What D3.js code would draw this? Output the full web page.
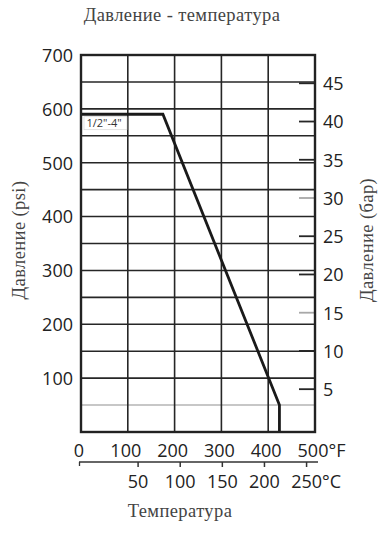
<!DOCTYPE html>
<html>
<head>
<meta charset="utf-8">
<script src="https://cdnjs.cloudflare.com/ajax/libs/d3/7.8.5/d3.min.js"></script>
<style>
  body { margin: 0; background: #fff; }
  .tick-label { font-family: "Open Sans", sans-serif; font-size: 18px; fill: #222; }
  .title { font-family: "Liberation Serif", serif; font-size: 18.5px; letter-spacing: 0.4px; fill: #444; }
</style>
</head>
<body>
<div id="chart"></div>
<script>
// pressure-temperature rating
const tempF = [0, 175, 424, 424]
const pressurePsi = [590, 590, 50, 0]
const sizeLabel = '1/2"-4"'

const psiTicks = [100, 200, 300, 400, 500, 600, 700]
const psiGrid = [50, 100, 150, 200, 250, 300, 350, 400, 450, 500, 550, 600, 650]
const lightPsiGrid = [50]
const fTicks = [0, 100, 200, 300, 400, 500]
const cTicks = [50, 100, 150, 200, 250]
const barTicks = [5, 10, 15, 20, 25, 30, 35, 40, 45]
const lightBarTicks = [15, 30]

const margin = { top: 55, right: 77, bottom: 104, left: 81 }
const width = 392 - margin.left - margin.right,
    height = 536 - margin.top - margin.bottom;

const root = d3.select("#chart")
    .append("svg")
    .attr("width", 392)
    .attr("height", 536)

const svg = root.append("g")
    .attr("transform", "translate(" + margin.left + "," + margin.top + ")")

const xPositionScale = d3.scaleLinear().domain([0, 500]).range([0, width])
const yPositionScale = d3.scaleLinear().domain([0, 700]).range([height, 0])
// the bar scale on the original is not exactly psi / 14.5, so it gets its own domain
const barScale = d3.scaleLinear().domain([-0.6, 48.7]).range([height, 0])
const cToF = c => c * 1.8 + 32

// grid
svg.selectAll(".hgrid")
    .data(psiGrid)
    .enter().append("line")
    .attr("class", "hgrid")
    .attr("x1", 0).attr("x2", width)
    .attr("y1", d => yPositionScale(d)).attr("y2", d => yPositionScale(d))
    .attr("stroke", d => lightPsiGrid.includes(d) ? "#b5b5b5" : "#262626")
    .attr("stroke-width", 1.6)

svg.selectAll(".vgrid")
    .data(fTicks.slice(1, -1))
    .enter().append("line")
    .attr("class", "vgrid")
    .attr("y1", 0).attr("y2", height)
    .attr("x1", d => xPositionScale(d)).attr("x2", d => xPositionScale(d))
    .attr("stroke", "#262626")
    .attr("stroke-width", 1.6)

// bar ticks on the inside of the right edge
svg.selectAll(".bar-tick")
    .data(barTicks)
    .enter().append("line")
    .attr("class", "bar-tick")
    .attr("x1", width - 16).attr("x2", width)
    .attr("y1", d => barScale(d)).attr("y2", d => barScale(d))
    .attr("stroke", d => lightBarTicks.includes(d) ? "#a8a8a8" : "#262626")
    .attr("stroke-width", 1.8)

// rating line
const line = d3.line()
    .x(d => xPositionScale(d[0]))
    .y(d => yPositionScale(d[1]))

svg.append("path")
    .datum(d3.zip(tempF, pressurePsi))
    .attr("fill", "none")
    .attr("stroke", "#1a1a1a")
    .attr("stroke-width", 2.8)
    .attr("d", line)

// size label under the plateau
const labelG = svg.append("g")
    .attr("transform", "translate(3," + (yPositionScale(pressurePsi[0]) + 2.5) + ")")
labelG.append("rect")
    .attr("width", 43).attr("height", 13)
    .attr("fill", "#fff")
    .attr("stroke", "#cfcfcf")
    .attr("stroke-width", 0.6)
labelG.append("text")
    .attr("x", 2.5).attr("y", 10.5)
    .style("font-family", "Open Sans, sans-serif")
    .style("font-size", "11px")
    .style("fill", "#333")
    .text(sizeLabel)

// frame
svg.append("rect")
    .attr("width", width).attr("height", height)
    .attr("fill", "none")
    .attr("stroke", "#222")
    .attr("stroke-width", 2.4)

// left axis (psi)
svg.selectAll(".psi-label")
    .data(psiTicks)
    .enter().append("text")
    .attr("class", "tick-label")
    .attr("x", -8)
    .attr("y", d => yPositionScale(d))
    .attr("dy", "0.38em")
    .attr("text-anchor", "end")
    .text(d => d)

// right axis (bar)
svg.selectAll(".bar-label")
    .data(barTicks)
    .enter().append("text")
    .attr("class", "tick-label")
    .attr("x", width + 8)
    .attr("y", d => barScale(d))
    .attr("dy", "0.38em")
    .text(d => d)

// bottom labels in °F
const fLabels = svg.selectAll(".f-label")
    .data(fTicks)
    .enter().append("text")
    .attr("class", "tick-label")
    .attr("x", d => xPositionScale(d) - 2)
    .attr("y", height + 25)
    .attr("text-anchor", "middle")
    .text(d => d)

// second scale in °C
const cAxisY = height + 30
svg.append("line")
    .attr("x1", -2).attr("x2", width + 3)
    .attr("y1", cAxisY).attr("y2", cAxisY)
    .attr("stroke", "#333")
    .attr("stroke-width", 1.5)
svg.append("line")
    .attr("x1", -1.5).attr("x2", -1.5)
    .attr("y1", cAxisY).attr("y2", cAxisY + 4)
    .attr("stroke", "#333")
    .attr("stroke-width", 1.3)
svg.selectAll(".c-tick")
    .data(cTicks)
    .enter().append("line")
    .attr("x1", d => xPositionScale(cToF(d))).attr("x2", d => xPositionScale(cToF(d)))
    .attr("y1", cAxisY).attr("y2", cAxisY + 5)
    .attr("stroke", "#333")
    .attr("stroke-width", 1.5)

const cLabels = svg.selectAll(".c-label")
    .data(cTicks)
    .enter().append("text")
    .attr("class", "tick-label")
    .attr("x", d => xPositionScale(cToF(d)))
    .attr("y", height + 56)
    .attr("text-anchor", "middle")
    .text(d => d)

// unit signs after the last number of each scale
function addUnit(sel, unit) {
    const last = sel.filter((d, i, n) => i === n.length - 1)
    const node = last.node()
    const w = node.getComputedTextLength()
    svg.append("text")
        .attr("class", "tick-label")
        .attr("x", +last.attr("x") + w / 2)
        .attr("y", last.attr("y"))
        .text(unit)
}
addUnit(fLabels, "°F")
addUnit(cLabels, "°C")

// titles
root.append("text")
    .attr("class", "title")
    .attr("x", 182).attr("y", 21)
    .attr("text-anchor", "middle")
    .text("Давление - температура")

root.append("text")
    .attr("class", "title")
    .attr("x", 180).attr("y", 517)
    .attr("text-anchor", "middle")
    .text("Температура")

root.append("text")
    .attr("class", "title")
    .attr("transform", "translate(25,240) rotate(-90)")
    .attr("text-anchor", "middle")
    .text("Давление (psi)")

root.append("text")
    .attr("class", "title")
    .attr("transform", "translate(373,240) rotate(-90)")
    .attr("text-anchor", "middle")
    .text("Давление (бар)")
</script>
</body>
</html>
